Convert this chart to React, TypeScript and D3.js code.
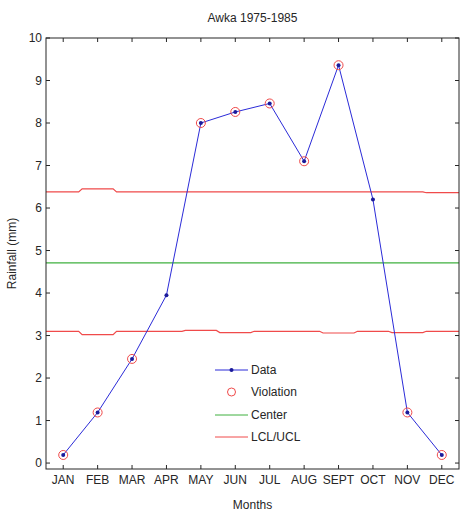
import React from "react";
import * as d3 from "d3";

const months = ["JAN", "FEB", "MAR", "APR", "MAY", "JUN", "JUL", "AUG", "SEPT", "OCT", "NOV", "DEC"];
const rainfall = [0.19, 1.19, 2.45, 3.95, 8.0, 8.26, 8.46, 7.1, 9.36, 6.2, 1.19, 0.19];
const violation = [true, true, true, false, true, true, true, true, true, false, true, true];
const centerValue = 4.71;
const uclSegments = [6.38, 6.45, 6.38, 6.38, 6.38, 6.38, 6.38, 6.38, 6.38, 6.38, 6.38, 6.36];
const lclSegments = [3.1, 3.02, 3.1, 3.1, 3.12, 3.07, 3.1, 3.1, 3.06, 3.1, 3.07, 3.1];
const yTicks = [0, 1, 2, 3, 4, 5, 6, 7, 8, 9, 10];
const legendItems = ["Data", "Violation", "Center", "LCL/UCL"];

const W = 461, H = 517;
const L = 46, R = 459, T = 38, B = 469;
const FONT = "'Liberation Sans', Arial, sans-serif";
const BLUE = "#2b2bd8", RED = "#f04a4a", GREEN = "#3fb03f", AX = "#262626";

export default function App() {
  const x = d3.scaleLinear().domain([0.5, 12.5]).range([L, R]);
  const y = d3.scaleLinear().domain([-0.14, 10]).range([B, T]);
  const line = d3.line<[number, number]>().x(d => x(d[0])).y(d => y(d[1]));

  const stepPts = (segs: number[]) => {
    const pts: [number, number][] = [];
    segs.forEach((v, i) => {
      const m = i + 1;
      pts.push([m - 0.45, v]);
      pts.push([m + 0.45, v]);
    });
    pts[0][0] = 0.5;
    pts[pts.length - 1][0] = 12.5;
    return pts;
  };

  const dataPts: [number, number][] = rainfall.map((v, i) => [i + 1, v]);
  const tl = 4;
  const legX1 = 215, legX2 = 248, legY = [370, 392, 415, 437];

  return (
    <svg width={W} height={H} style={{ position: "absolute", left: 0, top: 0, background: "#fff" }} fontFamily={FONT}>
      <rect x={0} y={0} width={W} height={H} fill="#fff" />
      <text x={(L + R) / 2} y={22} textAnchor="middle" fontSize={12} fill={AX}>Awka 1975-1985</text>

      {/* control lines */}
      <path d={line(stepPts(uclSegments)) || ""} fill="none" stroke={RED} strokeWidth={1.2} />
      <path d={line(stepPts(lclSegments)) || ""} fill="none" stroke={RED} strokeWidth={1.2} />
      <path d={line([[0.5, centerValue], [12.5, centerValue]]) || ""} fill="none" stroke={GREEN} strokeWidth={1.2} />

      {/* data */}
      <path d={line(dataPts) || ""} fill="none" stroke={BLUE} strokeWidth={1} />
      {dataPts.map((d, i) => violation[i] ? (
        <circle key={"v" + i} cx={x(d[0])} cy={y(d[1])} r={4.5} fill="none" stroke={RED} strokeWidth={1} />
      ) : null)}
      {dataPts.map((d, i) => (
        <circle key={"d" + i} cx={x(d[0])} cy={y(d[1])} r={2} fill="#1a1a9a" />
      ))}

      {/* axes box */}
      <rect x={L} y={T} width={R - L} height={B - T} fill="none" stroke={AX} strokeWidth={1} />
      {months.map((m, i) => {
        const px = x(i + 1);
        return (
          <g key={m}>
            <line x1={px} x2={px} y1={B} y2={B - tl} stroke={AX} />
            <line x1={px} x2={px} y1={T} y2={T + tl} stroke={AX} />
            <text x={px} y={484} textAnchor="middle" fontSize={12} fill={AX}>{m}</text>
          </g>
        );
      })}
      {yTicks.map(t => {
        const py = y(t);
        return (
          <g key={t}>
            <line x1={L} x2={L + tl} y1={py} y2={py} stroke={AX} />
            <line x1={R} x2={R - tl} y1={py} y2={py} stroke={AX} />
            <text x={L - 4} y={py + 4} textAnchor="end" fontSize={12} fill={AX}>{t}</text>
          </g>
        );
      })}
      <text x={(L + R) / 2} y={509} textAnchor="middle" fontSize={12} fill={AX}>Months</text>
      <text transform={`translate(16,${(T + B) / 2}) rotate(-90)`} textAnchor="middle" fontSize={12} fill={AX}>Rainfall (mm)</text>

      {/* legend */}
      <line x1={legX1} x2={legX2} y1={legY[0]} y2={legY[0]} stroke={BLUE} />
      <circle cx={(legX1 + legX2) / 2} cy={legY[0]} r={2} fill="#1a1a9a" />
      <circle cx={(legX1 + legX2) / 2} cy={legY[1]} r={4} fill="none" stroke={RED} />
      <line x1={legX1} x2={legX2} y1={legY[2]} y2={legY[2]} stroke={GREEN} />
      <line x1={legX1} x2={legX2} y1={legY[3]} y2={legY[3]} stroke={RED} />
      {legendItems.map((s, i) => (
        <text key={s} x={legX2 + 3} y={legY[i] + 4} fontSize={12} fill={AX}>{s}</text>
      ))}
    </svg>
  );
}
